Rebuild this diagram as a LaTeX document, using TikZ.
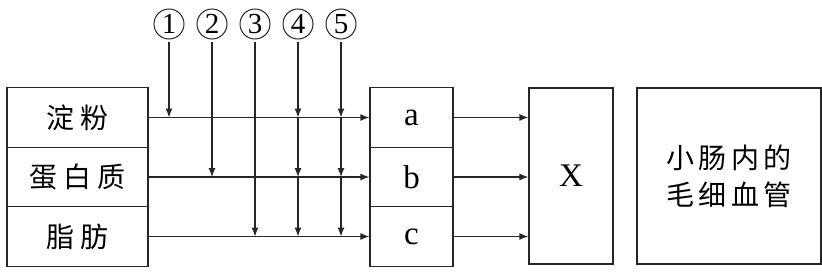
\documentclass[tikz,border=0pt]{standalone}
\usepackage{fontspec}
\setmainfont{Liberation Serif}
\newfontfamily\cjk{Noto Sans CJK SC}
\usetikzlibrary{arrows.meta}
\begin{document}
\begin{tikzpicture}[x=1pt,y=-1pt,
  line width=1.2pt, draw=black!85,
  cell/.style={draw, minimum width=141pt, minimum height=59.5pt, inner sep=0pt, font=\cjk\fontsize{28}{32}\selectfont},
  lcell/.style={draw, minimum width=83pt, minimum height=59.5pt, inner sep=0pt, font=\fontsize{33}{36}\selectfont},
  bigbox/.style={draw, minimum height=176pt, inner sep=0pt},
  num/.style={circle, draw, line width=1pt, minimum size=30pt, inner sep=0pt, font=\fontsize{29}{30}\selectfont},
  arr/.style={-{Latex[length=9pt,width=7pt]}}]
\useasboundingbox (0,0) rectangle (822,271);
% left box
\node[cell] (s) at (77.5,117.5) {淀\hspace{0.2em}粉};
\node[cell] (p) at (77.5,177) {蛋\hspace{0.2em}白\hspace{0.2em}质};
\node[cell] (f) at (77.5,236.5) {脂\hspace{0.2em}肪};
% abc
\node[lcell] (a) at (411.5,117.5) {a};
\node[lcell] (b) at (411.5,177) {b};
\node[lcell] (c) at (411.5,236.5) {c};
% X and capillary
\node[bigbox, minimum width=84pt, font=\fontsize{33}{36}\selectfont] (x) at (571,176) {X};
\node[bigbox, minimum width=184pt, align=center, font=\cjk\fontsize{28}{37}\selectfont] (cap) at (729,176) {小\hspace{0.15em}肠\hspace{0.15em}内\hspace{0.15em}的\\毛\hspace{0.15em}细\hspace{0.15em}血\hspace{0.15em}管};
% circled numbers
\node[num] (n1) at (169,24) {1};
\node[num] (n2) at (212,24) {2};
\node[num] (n3) at (255,24) {3};
\node[num] (n4) at (298,24) {4};
\node[num] (n5) at (341,24) {5};
% horizontal arrows
\draw[arr] (s.east) -- (a.west);
\draw[arr] (p.east) -- (b.west);
\draw[arr] (f.east) -- (c.west);
\draw[arr] (a.east) -- (a.east -| x.west);
\draw[arr] (b.east) -- (b.east -| x.west);
\draw[arr] (c.east) -- (c.east -| x.west);
% vertical arrows
\draw[arr] ([yshift=-2pt]n1.south) -- (n1.south |- s.east);
\draw[arr] ([yshift=-2pt]n2.south) -- (n2.south |- p.east);
\draw[arr] ([yshift=-2pt]n3.south) -- (n3.south |- f.east);
\foreach \n in {n4,n5}{
  \draw[arr] ([yshift=-2pt]\n.south) -- (\n.south |- s.east);
  \draw[arr] (\n.south |- s.east) -- (\n.south |- p.east);
  \draw[arr] (\n.south |- p.east) -- (\n.south |- f.east);
}
\end{tikzpicture}
\end{document}
